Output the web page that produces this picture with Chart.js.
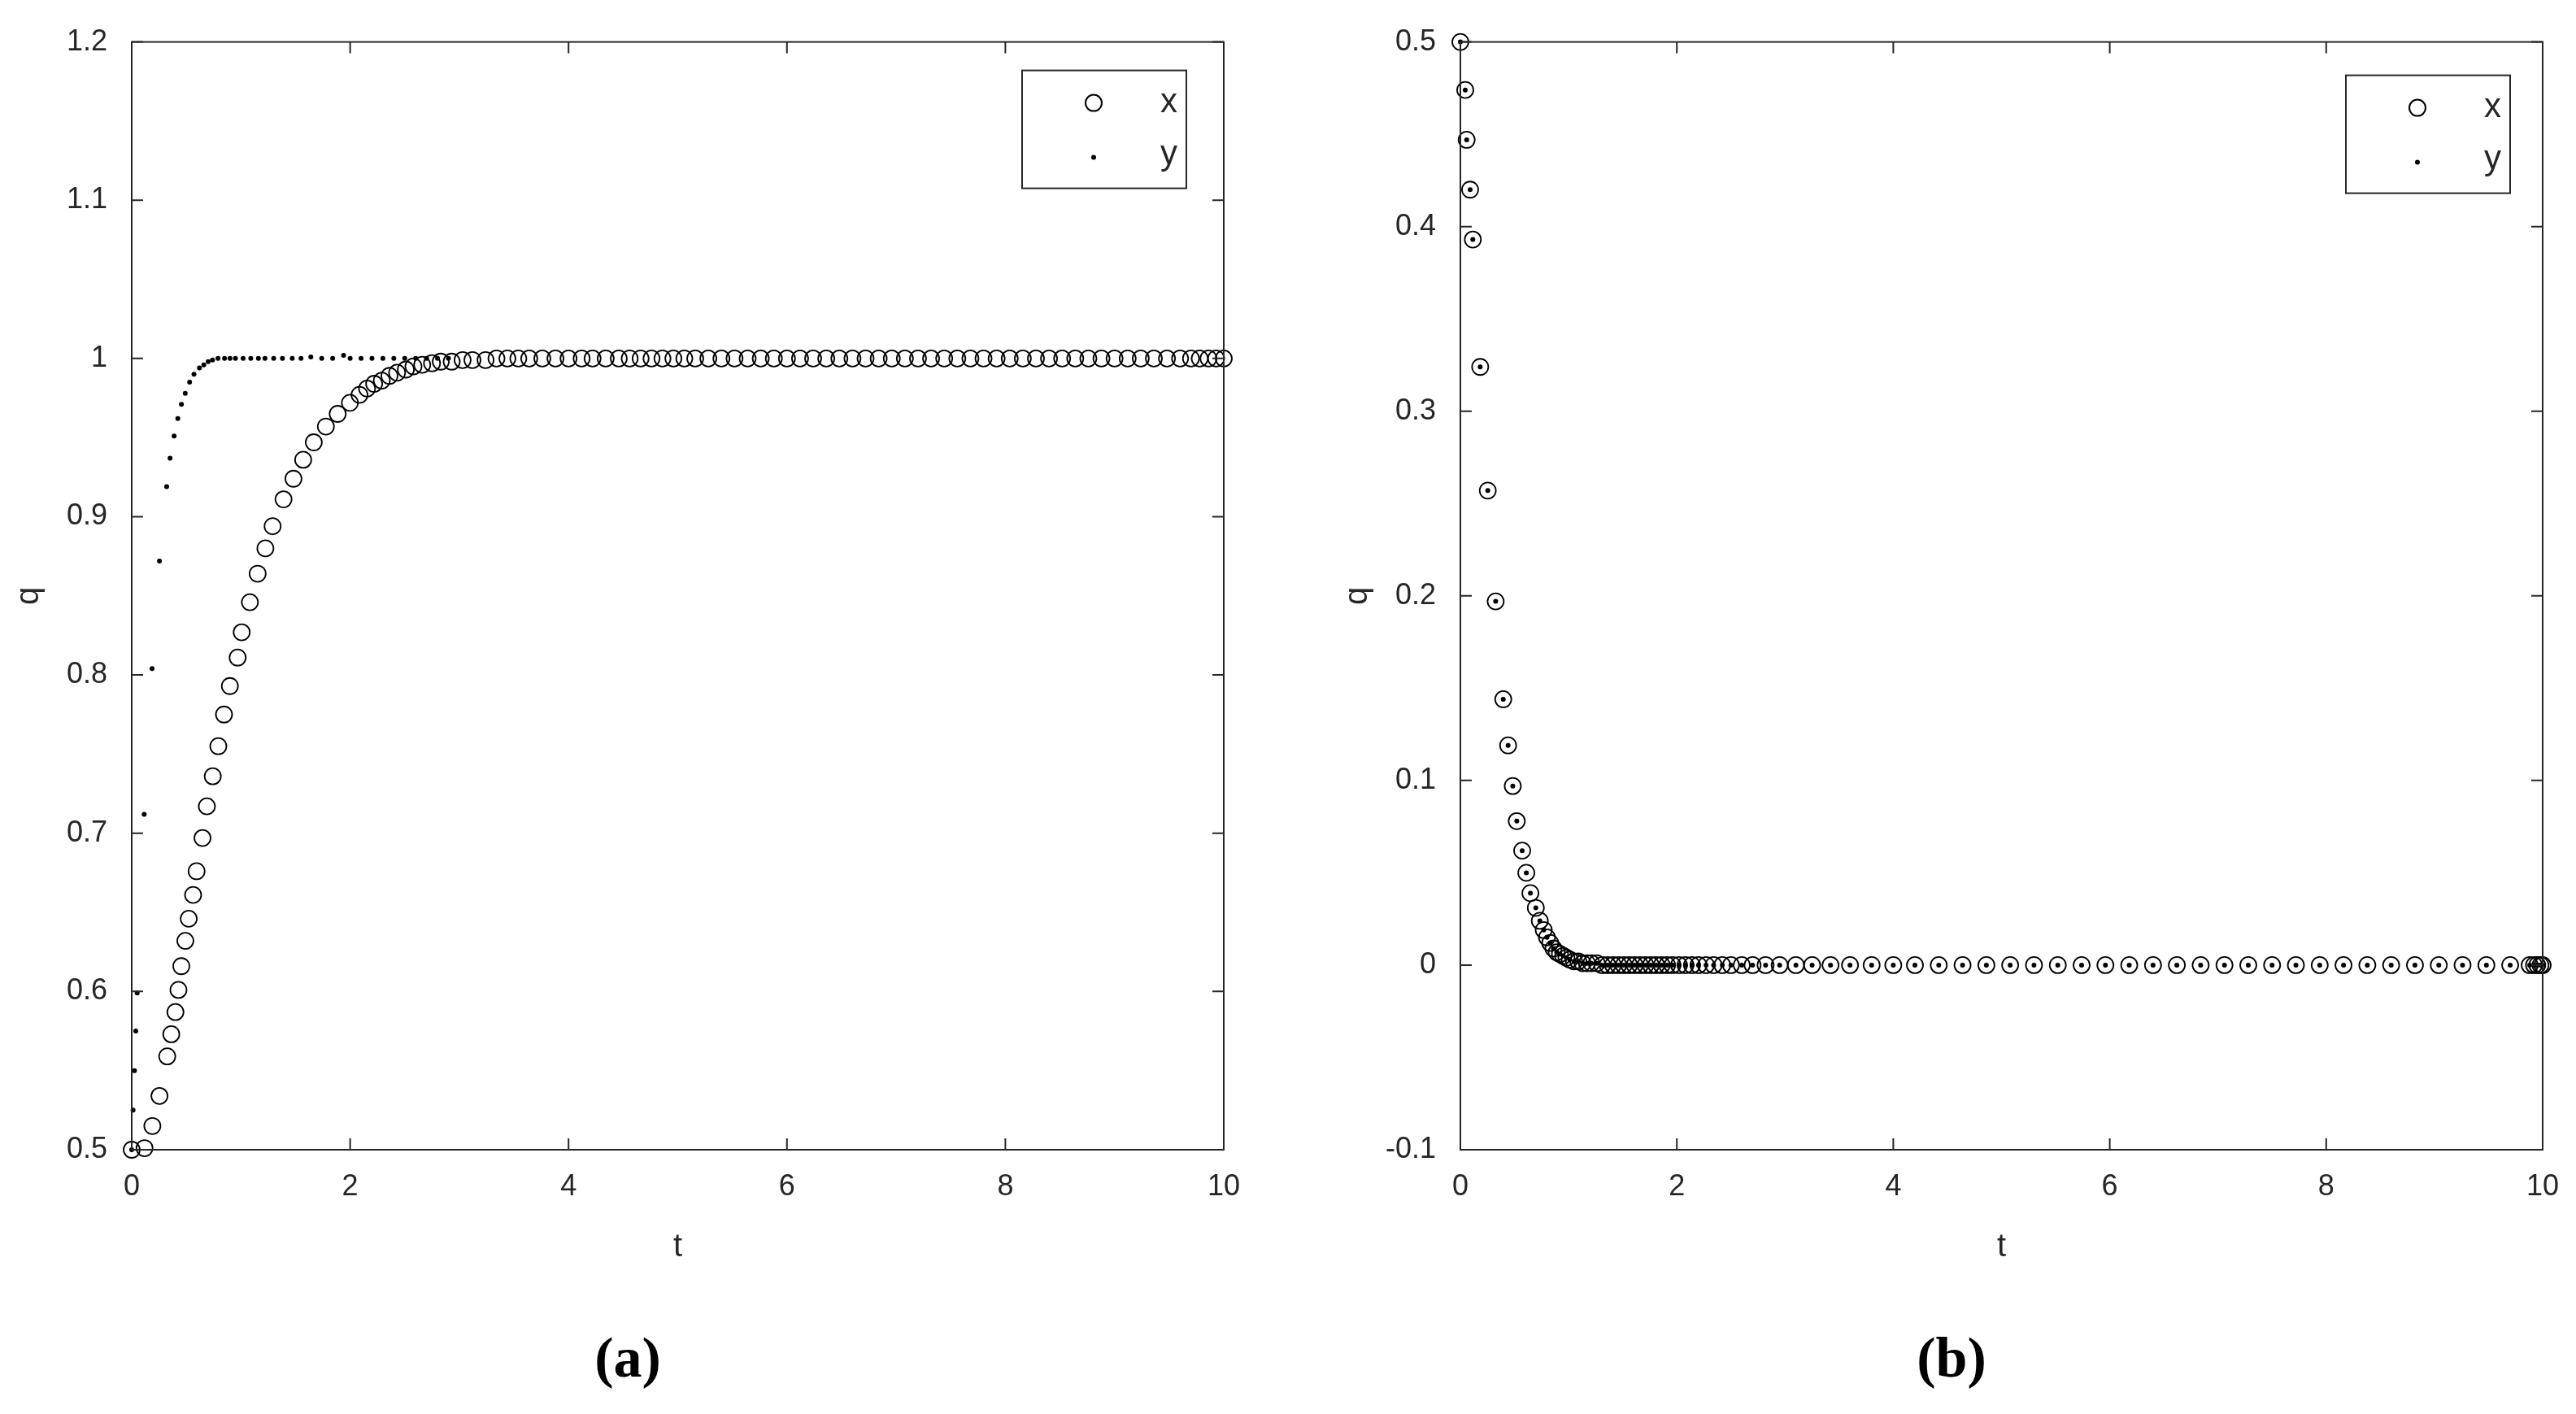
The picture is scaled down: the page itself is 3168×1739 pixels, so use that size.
<!DOCTYPE html>
<html>
<head>
<meta charset="utf-8">
<script src="https://cdn.jsdelivr.net/npm/chart.js@4.4.0/dist/chart.umd.min.js"></script>
<style>
  body { margin: 0; background: #fff; width: 3168px; height: 1739px; position: relative; overflow: hidden; }
  .panel { position: absolute; top: 0; width: 1560px; height: 1560px; }
  .cap { position: absolute; top: 1630px; font: bold 70px "Liberation Serif", serif; color: #000; transform: translateX(-50%); }
</style>
</head>
<body>
<div class="panel" style="left:0"><canvas id="chartA"></canvas></div>
<div class="panel" style="left:1634px"><canvas id="chartB"></canvas></div>
<div class="cap" style="left:772px">(<span>a</span>)</div>
<div class="cap" style="left:2400px">(<span>b</span>)</div>
<script>
// panel (a): x shown as circles, y as dots
const aXT = [0, 0.117, 0.189, 0.254, 0.325, 0.362, 0.40, 0.428, 0.454, 0.491,
  0.522, 0.562, 0.594, 0.648, 0.688, 0.742, 0.793, 0.845, 0.899, 0.97,
  1.007, 1.082, 1.153, 1.224, 1.29, 1.39, 1.481, 1.57, 1.667, 1.778,
  1.886, 1.998, 2.086, 2.155, 2.22, 2.29, 2.36, 2.43, 2.51, 2.58,
  2.66, 2.75, 2.83, 2.93, 3.03, 3.12, 3.24, 3.34, 3.44, 3.54, 3.64,
  3.76, 3.88, 4.0, 4.12, 4.22, 4.34, 4.46, 4.56, 4.66, 4.76,
  4.86, 4.96, 5.06, 5.16, 5.28, 5.4, 5.52, 5.64, 5.76, 5.88,
  6.0, 6.12, 6.24, 6.36, 6.48, 6.6, 6.72, 6.84, 6.96, 7.08,
  7.2, 7.32, 7.44, 7.56, 7.68, 7.8, 7.92, 8.04, 8.16, 8.28,
  8.4, 8.52, 8.64, 8.76, 8.88, 9.0, 9.12, 9.24, 9.36, 9.48,
  9.6, 9.7, 9.78, 9.86, 9.93, 10];
const aXQ = [0.500, 0.501, 0.515, 0.534, 0.559, 0.573, 0.587, 0.601, 0.616, 0.632,
  0.646, 0.661, 0.676, 0.697, 0.717, 0.736, 0.755, 0.775, 0.793, 0.811,
  0.827, 0.846, 0.864, 0.880, 0.894, 0.911, 0.924, 0.936, 0.947, 0.957,
  0.965, 0.972, 0.977, 0.981, 0.984, 0.986, 0.989, 0.991, 0.993, 0.995,
  0.996, 0.997, 0.998, 0.998, 0.999, 0.999, 0.999, 1, 1, 1, 1,
  1, 1, 1, 1, 1, 1, 1, 1, 1, 1,
  1, 1, 1, 1, 1, 1, 1, 1, 1, 1,
  1, 1, 1, 1, 1, 1, 1, 1, 1, 1,
  1, 1, 1, 1, 1, 1, 1, 1, 1, 1,
  1, 1, 1, 1, 1, 1, 1, 1, 1, 1,
  1, 1, 1, 1, 1, 1];
const aYT = [0, 0.012, 0.025, 0.037, 0.05, 0.114, 0.186, 0.254, 0.320, 0.351, 0.388, 0.422, 0.455, 0.49,
  0.53, 0.57, 0.62, 0.66, 0.70, 0.74, 0.79, 0.85, 0.90, 0.95,
  1.02, 1.09, 1.16, 1.22, 1.30, 1.38, 1.47, 1.55, 1.64, 1.74,
  1.84, 1.94, 2.0, 2.1, 2.2, 2.3, 2.4, 2.5, 2.6, 2.7,
  2.8, 2.9];
const aYQ = [0.5, 0.525, 0.55, 0.575, 0.599, 0.712, 0.804, 0.872, 0.919, 0.937, 0.951, 0.962, 0.971, 0.978,
  0.985, 0.990, 0.994, 0.996, 0.998, 0.999, 1, 1, 1, 1,
  1, 1, 1, 1, 1, 1, 1, 1, 1.001, 1,
  1, 1.002, 1, 1, 1, 1, 1, 1, 1, 1,
  1, 1];

// panel (b): x and y coincide
const bT = [0, 0.045, 0.058, 0.09, 0.115, 0.183, 0.253, 0.326, 0.396, 0.441,
  0.484, 0.521, 0.571, 0.609, 0.647, 0.697, 0.734, 0.77, 0.80, 0.83,
  0.86, 0.89, 0.92, 0.95, 0.98, 1.01, 1.05, 1.09, 1.13, 1.17,
  1.21, 1.26, 1.31, 1.36, 1.41, 1.46, 1.51, 1.56, 1.61, 1.66,
  1.71, 1.76, 1.81, 1.86, 1.91, 1.96, 2.02, 2.08, 2.14, 2.20,
  2.27, 2.34, 2.42, 2.50, 2.60, 2.70, 2.82, 2.95, 3.10, 3.25,
  3.42, 3.60, 3.80, 4.0, 4.2, 4.42, 4.64, 4.86, 5.08, 5.30,
  5.52, 5.74, 5.96, 6.18, 6.40, 6.62, 6.84, 7.06, 7.28, 7.50,
  7.72, 7.94, 8.16, 8.38, 8.60, 8.82, 9.04, 9.26, 9.48, 9.70,
  9.88, 9.92, 9.95, 9.98, 10];
const bX = [0.5, 0.474, 0.447, 0.42, 0.393, 0.324, 0.257, 0.197, 0.144, 0.119,
  0.097, 0.078, 0.062, 0.050, 0.039, 0.031, 0.024, 0.019, 0.015, 0.012,
  0.009, 0.007, 0.006, 0.005, 0.004, 0.003, 0.002, 0.002, 0.001, 0.001,
  0.001, 0.001, 0, 0, 0, 0, 0, 0, 0, 0,
  0, 0, 0, 0, 0, 0, 0, 0, 0, 0,
  0, 0, 0, 0, 0, 0, 0, 0, 0, 0,
  0, 0, 0, 0, 0, 0, 0, 0, 0, 0,
  0, 0, 0, 0, 0, 0, 0, 0, 0, 0,
  0, 0, 0, 0, 0, 0, 0, 0, 0, 0,
  0, 0, 0, 0, 0];
const bY = [0.5, 0.474, 0.447, 0.42, 0.393, 0.324, 0.257, 0.197, 0.144, 0.119,
  0.097, 0.078, 0.062, 0.050, 0.039, 0.031, 0.024, 0.019, 0.015, 0.012,
  0.009, 0.007, 0.006, 0.005, 0.004, 0.003, 0.002, 0.002, 0.001, 0.001,
  0.001, 0.001, 0, 0, 0, 0, 0, 0, 0, 0,
  0, 0, 0, 0, 0, 0, 0, 0, 0, 0,
  0, 0, 0, 0, 0, 0, 0, 0, 0, 0,
  0, 0, 0, 0, 0, 0, 0, 0, 0, 0,
  0, 0, 0, 0, 0, 0, 0, 0, 0, 0,
  0, 0, 0, 0, 0, 0, 0, 0, 0, 0,
  0, 0, 0, 0, 0];

const seriesNames = ['x', 'y'];
const xTicks = [0, 2, 4, 6, 8, 10];

const FONT = 'Liberation Sans, Arial, sans-serif';
const INK = '#262626';

function pts(ts, qs) { return ts.map((t, i) => ({ x: t, y: qs[i] })); }
function tickText(v) {
  const r = Math.round(v * 10) / 10;
  return (r === 0 ? 0 : r).toString();
}

// MATLAB-style box, inward ticks, axis titles and boxed legend
const matlabFrame = {
  id: 'matlabFrame',
  afterDraw(chart, args, o) {
    const { ctx, chartArea: a, scales } = chart;
    ctx.save();
    ctx.strokeStyle = INK;
    ctx.lineWidth = 2;
    ctx.strokeRect(a.left, a.top, a.right - a.left, a.bottom - a.top);
    const L = 14;
    ctx.beginPath();
    scales.x.ticks.forEach(t => {
      const px = scales.x.getPixelForValue(t.value);
      ctx.moveTo(px, a.bottom); ctx.lineTo(px, a.bottom - L);
      ctx.moveTo(px, a.top); ctx.lineTo(px, a.top + L);
    });
    scales.y.ticks.forEach(t => {
      const py = scales.y.getPixelForValue(t.value);
      ctx.moveTo(a.left, py); ctx.lineTo(a.left + L, py);
      ctx.moveTo(a.right, py); ctx.lineTo(a.right - L, py);
    });
    ctx.stroke();

    // axis titles
    ctx.fillStyle = INK;
    ctx.font = '40px ' + FONT;
    ctx.textAlign = 'center';
    ctx.textBaseline = 'middle';
    ctx.fillText('t', (a.left + a.right) / 2, a.bottom + 120);
    ctx.save();
    ctx.translate(a.left - 126, (a.top + a.bottom) / 2);
    ctx.rotate(-Math.PI / 2);
    ctx.fillText('q', 0, 0);
    ctx.restore();

    // legend box
    const bw = 202, bh = 145;
    const bx = a.right - o.right - bw, by = a.top + o.top;
    ctx.fillStyle = '#fff';
    ctx.fillRect(bx, by, bw, bh);
    ctx.lineWidth = 2;
    ctx.strokeRect(bx, by, bw, bh);
    ctx.fillStyle = '#000';
    ctx.strokeStyle = '#000';
    ctx.beginPath();
    ctx.arc(bx + 88, by + 40, 10, 0, Math.PI * 2);
    ctx.stroke();
    ctx.beginPath();
    ctx.arc(bx + 88, by + 107, 3, 0, Math.PI * 2);
    ctx.fill();
    ctx.fillStyle = INK;
    ctx.font = '42px ' + FONT;
    ctx.textAlign = 'left';
    ctx.fillText(seriesNames[0], bx + 170, by + 40);
    ctx.fillText(seriesNames[1], bx + 170, by + 104);
    ctx.restore();
  }
};

function makeChart(id, xData, yData, yMin, yMax, padRight, legendOff) {
  return new Chart(document.getElementById(id).getContext('2d'), {
    type: 'scatter',
    data: {
      datasets: [
        { label: seriesNames[0], data: xData, pointStyle: 'circle', pointRadius: 10,
          backgroundColor: 'rgba(0,0,0,0)', borderColor: '#000', borderWidth: 1.8, clip: false },
        { label: seriesNames[1], data: yData, pointStyle: 'circle', pointRadius: 3,
          backgroundColor: '#000', borderColor: '#000', borderWidth: 0, clip: false }
      ]
    },
    options: {
      responsive: true,
      maintainAspectRatio: false,
      animation: false,
      devicePixelRatio: 1,
      layout: { padding: { top: 28, right: padRight, left: 0, bottom: 0 } },
      plugins: { legend: { display: false }, tooltip: { enabled: false }, matlabFrame: legendOff },
      scales: {
        x: {
          type: 'linear', min: 0, max: 10,
          afterFit: s => { s.height = 146; },
          afterBuildTicks: s => { s.ticks = xTicks.map(v => ({ value: v })); },
          grid: { display: false, drawTicks: false },
          border: { display: false },
          ticks: { color: INK, font: { size: 36, family: FONT }, padding: 24 }
        },
        y: {
          min: yMin, max: yMax,
          afterFit: s => { s.width = 162; },
          grid: { display: false, drawTicks: false },
          border: { display: false },
          ticks: { stepSize: 0.1, color: INK, font: { size: 36, family: FONT }, padding: 30,
                   callback: v => tickText(v) }
        }
      }
    },
    plugins: [matlabFrame]
  });
}

makeChart('chartA', pts(aXT, aXQ), pts(aYT, aYQ), 0.5, 1.2, 55, { right: 46, top: 35 });
makeChart('chartB', pts(bT, bX), pts(bT, bY), -0.1, 0.5, 67, { right: 40, top: 41 });
</script>
</body>
</html>
